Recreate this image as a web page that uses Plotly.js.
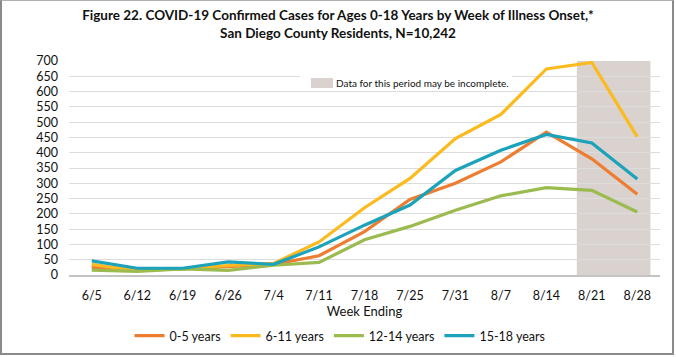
<!DOCTYPE html>
<html>
<head>
<meta charset="utf-8">
<script src="https://cdn.plot.ly/plotly-3.0.1.min.js"></script>
<style>
  html, body { margin: 0; padding: 0; background: #fff; }
  #wrap { position: relative; width: 676px; height: 357px; overflow: hidden; }
  #chart { width: 676px; height: 357px; }
  #frame { position: absolute; left: 0; top: 0; width: 670px; height: 352px;
           border-left: 2px solid #8a8a8a; border-right: 2px solid #8a8a8a;
           border-bottom: 2px solid #8a8a8a; border-top: 1px solid #b0b0b0;
           pointer-events: none; }
</style>
</head>
<body>
<div id="wrap">
  <div id="chart"></div>
  <div id="frame"></div>
</div>
<script>
const weeks = ['6/5','6/12','6/19','6/26','7/4','7/11','7/18','7/25','7/31','8/7','8/14','8/21','8/28'];
const age0to5   = [24, 16, 20, 27, 35, 63, 142, 247, 300, 370, 467, 380, 264];
const age6to11  = [35, 14, 21, 31, 38, 108, 220, 316, 446, 525, 674, 695, 452];
const age12to14 = [16, 12, 20, 15, 32, 41, 115, 159, 212, 259, 286, 277, 206];
const age15to18 = [46, 22, 22, 43, 35, 92, 163, 229, 342, 408, 460, 432, 314];
const seriesNames = ['0-5 years', '6-11 years', '12-14 years', '15-18 years'];
const incompleteWeeks = ['8/21', '8/28'];
const incompleteLabel = 'Data for this period may be incomplete.';

const colors = ['#ED7D31', '#FBBA1E', '#9BBB4F', '#1CA2BA'];
const allSeries = [age0to5, age6to11, age12to14, age15to18];

const traces = allSeries.map((vals, i) => ({
  x: weeks, y: vals, name: seriesNames[i], type: 'scatter', mode: 'lines',
  line: { color: colors[i], width: 3.2 }
}));

const font = 'Lato, "Open Sans", sans-serif';
const i0 = weeks.indexOf(incompleteWeeks[0]);
const i1 = weeks.indexOf(incompleteWeeks[incompleteWeeks.length - 1]);

const layout = {
  width: 676, height: 357,
  margin: { l: 69, r: 16, t: 61, b: 82, autoexpand: false },
  paper_bgcolor: '#fff', plot_bgcolor: '#fff',
  font: { family: font, size: 12, color: '#111' },
  title: {
    text: '<b>Figure 22. COVID-19 Confirmed Cases for Ages 0-18 Years by Week of Illness Onset,*</b><br><b>San Diego County Residents, N=10,242</b>',
    font: { family: font, size: 13.5, color: '#111' },
    x: 0.5, xanchor: 'center', y: 0.944, yanchor: 'top'
  },
  xaxis: {
    type: 'category', range: [-0.5, weeks.length - 0.5], automargin: false,
    showgrid: false, zeroline: false,
    showline: true, linecolor: '#c4c4c4', linewidth: 2,
    ticks: '', ticklabelstandoff: 8,
    tickfont: { family: font, size: 12.5, color: '#111' },
    title: { text: 'Week Ending', font: { family: font, size: 13, color: '#111' }, standoff: 4 }
  },
  yaxis: {
    range: [0, 700], dtick: 50, tick0: 0, automargin: false,
    showgrid: true, gridcolor: '#dcdcdc', gridwidth: 1,
    zeroline: false, showline: false, ticks: '',
    ticklabelstandoff: 10,
    tickfont: { family: font, size: 12.5, color: '#111' }
  },
  showlegend: true,
  legend: {
    orientation: 'h', xref: 'container', yref: 'container',
    x: 0.503, xanchor: 'center', y: 1 - 336 / 357, yanchor: 'middle',
    font: { family: font, size: 12.5, color: '#111' },
    itemwidth: 30, tracegroupgap: 0
  },
  shapes: [
    { type: 'rect', xref: 'x', yref: 'paper', layer: 'below',
      x0: i0 - 0.33, x1: i1 + 0.29, y0: 0, y1: 1,
      fillcolor: '#D9D2CE', line: { width: 0 } },
    { type: 'rect', xref: 'paper', yref: 'paper', layer: 'above',
      x0: (300 - 69) / 591, x1: (512 - 69) / 591, y0: (275 - 91) / 214, y1: (275 - 74) / 214,
      fillcolor: '#ffffff', line: { width: 0 } },
    { type: 'rect', xref: 'paper', yref: 'paper', layer: 'above',
      x0: (311 - 69) / 591, x1: (333 - 69) / 591, y0: (275 - 88) / 214, y1: (275 - 78) / 214,
      fillcolor: '#D9D2CE', line: { width: 0 } }
  ],
  annotations: [
    { xref: 'paper', yref: 'paper', x: (334 - 69) / 591, y: (275 - 83) / 214,
      xanchor: 'left', yanchor: 'middle', showarrow: false,
      text: incompleteLabel, font: { family: font, size: 10, color: '#111' } }
  ]
};

Plotly.newPlot('chart', traces, layout, { displayModeBar: false, staticPlot: true });
</script>
</body>
</html>
